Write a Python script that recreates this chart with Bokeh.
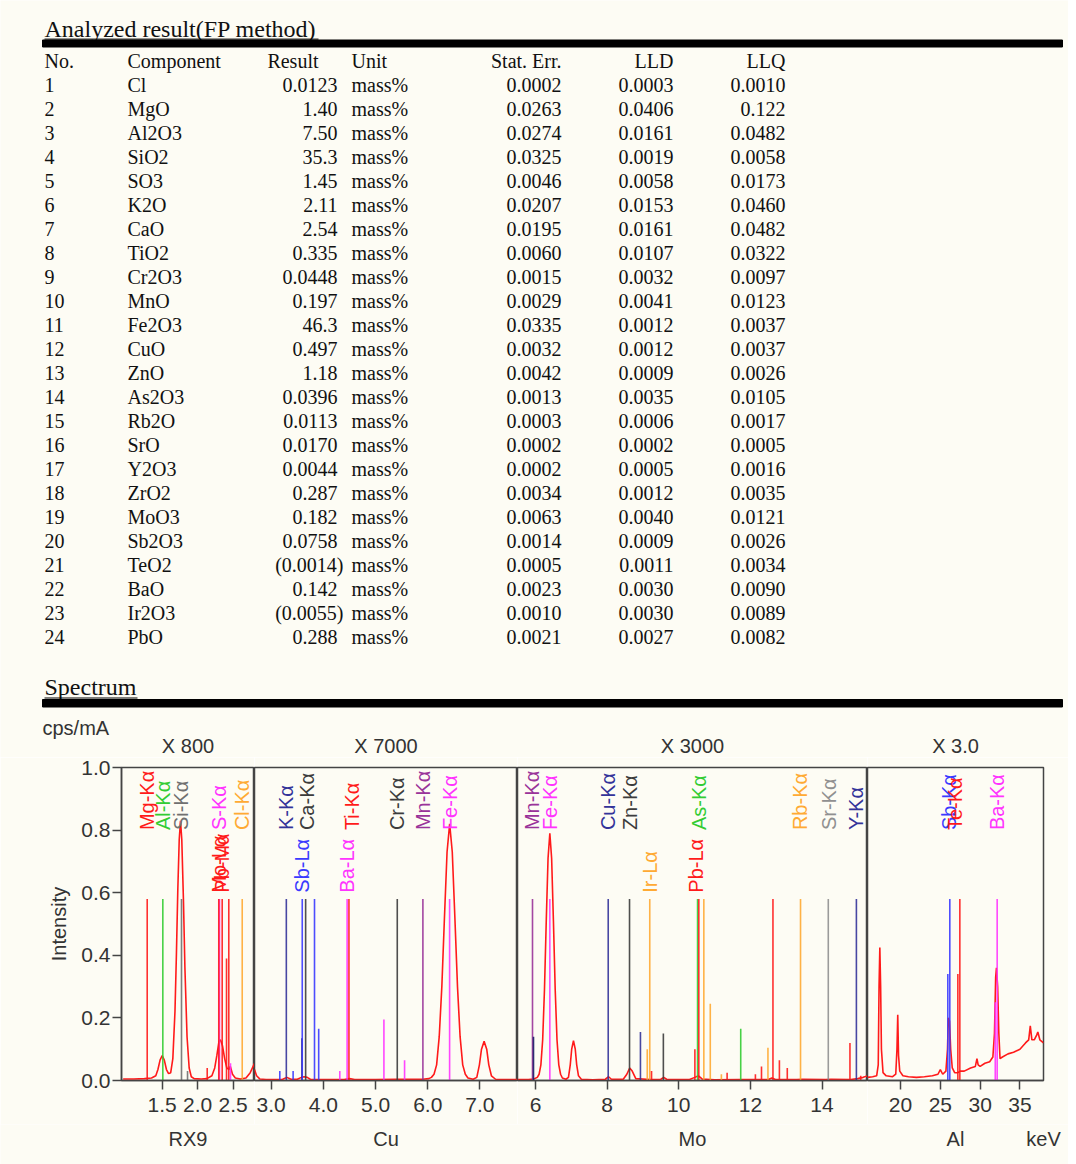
import numpy as np
from bokeh.plotting import figure
from bokeh.layouts import column, row
from bokeh.models import Range1d, FixedTicker, PrintfTickFormatter, ColumnDataSource
from bokeh.embed import file_html
from bokeh.resources import INLINE
from bokeh.core.properties import value

BG = "#fdfcf4"
SERIF = "Liberation Serif"
SANS = "Liberation Sans"
INK = "#333333"

# ---------------- table data ----------------
components = ["Cl", "MgO", "Al2O3", "SiO2", "SO3", "K2O", "CaO", "TiO2", "Cr2O3", "MnO", "Fe2O3", "CuO",
              "ZnO", "As2O3", "Rb2O", "SrO", "Y2O3", "ZrO2", "MoO3", "Sb2O3", "TeO2", "BaO", "Ir2O3", "PbO"]
results = ["0.0123", "1.40", "7.50", "35.3", "1.45", "2.11", "2.54", "0.335", "0.0448", "0.197", "46.3", "0.497",
           "1.18", "0.0396", "0.0113", "0.0170", "0.0044", "0.287", "0.182", "0.0758", "(0.0014)", "0.142", "(0.0055)", "0.288"]
units = ["mass%"] * 24
stat_err = ["0.0002", "0.0263", "0.0274", "0.0325", "0.0046", "0.0207", "0.0195", "0.0060", "0.0015", "0.0029", "0.0335", "0.0032",
            "0.0042", "0.0013", "0.0003", "0.0002", "0.0002", "0.0034", "0.0063", "0.0014", "0.0005", "0.0023", "0.0010", "0.0021"]
lld = ["0.0003", "0.0406", "0.0161", "0.0019", "0.0058", "0.0153", "0.0161", "0.0107", "0.0032", "0.0041", "0.0012", "0.0012",
       "0.0009", "0.0035", "0.0006", "0.0002", "0.0005", "0.0012", "0.0040", "0.0009", "0.0011", "0.0030", "0.0030", "0.0027"]
llq = ["0.0010", "0.122", "0.0482", "0.0058", "0.0173", "0.0460", "0.0482", "0.0322", "0.0097", "0.0123", "0.0037", "0.0037",
       "0.0026", "0.0105", "0.0017", "0.0005", "0.0016", "0.0035", "0.0121", "0.0026", "0.0034", "0.0090", "0.0089", "0.0082"]
headers = ["No.", "Component", "Result", "Unit", "Stat. Err.", "LLD", "LLQ"]

# ---------------- spectrum data ----------------
panel_names = ["RX9", "Cu", "Mo", "Al"]
panel_scales = ["X 800", "X 7000", "X 3000", "X 3.0"]
panel_xmin = [0.927, 2.68, 5.497, 15.85]
panel_xmax = [2.80, 7.72, 15.27, 37.96]
panel_ticks = [[1.5, 2.0, 2.5], [3.0, 4.0, 5.0, 6.0, 7.0], [6, 8, 10, 12, 14], [20, 25, 30, 35]]
panel_fmt = ["%.1f", "%.1f", "%d", "%d"]
y_ticks = [0.0, 0.2, 0.4, 0.6, 0.8, 1.0]

spec1_kev = [0.95, 1.10, 1.25, 1.35, 1.41, 1.44, 1.47, 1.50, 1.53, 1.56, 1.59, 1.62, 1.65, 1.68, 1.70, 1.72, 1.74,
             1.758, 1.776, 1.80, 1.82, 1.85, 1.88, 1.91, 1.95, 2.05, 2.13, 2.20, 2.24, 2.27, 2.30, 2.32, 2.35, 2.38,
             2.41, 2.44, 2.46, 2.49, 2.53, 2.60, 2.68, 2.74, 2.80]
spec1_int = [0.005, 0.005, 0.006, 0.008, 0.015, 0.035, 0.065, 0.08, 0.065, 0.035, 0.022, 0.025, 0.07, 0.22, 0.40, 0.61, 0.77,
             0.83, 0.77, 0.57, 0.36, 0.14, 0.04, 0.012, 0.006, 0.005, 0.006, 0.015, 0.04, 0.08, 0.125, 0.13, 0.11, 0.07,
             0.04, 0.035, 0.045, 0.02, 0.008, 0.005, 0.008, 0.025, 0.055]

spec2_kev = [2.68, 2.72, 2.78, 2.90, 3.10, 3.22, 3.30, 3.38, 3.50, 3.58, 3.63, 3.69, 3.75, 3.85, 4.00, 4.40, 4.50, 4.60,
             5.00, 5.40, 5.90, 6.02, 6.07, 6.12, 6.17, 6.22, 6.27, 6.32, 6.37, 6.42, 6.47, 6.52, 6.57, 6.62, 6.67, 6.72,
             6.77, 6.87, 6.94, 6.99, 7.03, 7.08, 7.13, 7.17, 7.22, 7.30, 7.45, 7.72]
spec2_int = [0.035, 0.015, 0.005, 0.003, 0.003, 0.004, 0.01, 0.004, 0.004, 0.01, 0.012, 0.01, 0.004, 0.003, 0.003, 0.003,
             0.006, 0.003, 0.003, 0.004, 0.004, 0.006, 0.01, 0.02, 0.05, 0.14, 0.30, 0.52, 0.73, 0.82, 0.73, 0.52, 0.30,
             0.14, 0.05, 0.02, 0.008, 0.004, 0.01, 0.05, 0.1, 0.125, 0.1, 0.05, 0.015, 0.004, 0.003, 0.003]

spec3_kev = [5.5, 5.8, 5.95, 6.05, 6.10, 6.15, 6.20, 6.25, 6.30, 6.35, 6.40, 6.45, 6.50, 6.55, 6.60, 6.65, 6.70, 6.75,
             6.85, 6.92, 6.97, 7.01, 7.06, 7.11, 7.15, 7.20, 7.28, 7.6, 7.95, 8.04, 8.12, 8.45, 8.55, 8.63, 8.70, 8.80,
             9.2, 9.5, 9.58, 9.66, 10.3, 10.45, 10.55, 10.65, 11.0, 11.7, 12.5, 12.6, 12.7, 13.3, 13.45, 14.1, 14.25,
             14.8, 15.0, 15.15, 15.27]
spec3_int = [0.003, 0.003, 0.005, 0.01, 0.02, 0.05, 0.13, 0.29, 0.51, 0.71, 0.79, 0.71, 0.51, 0.29, 0.13, 0.05, 0.02, 0.008,
             0.004, 0.01, 0.05, 0.1, 0.127, 0.1, 0.05, 0.015, 0.004, 0.002, 0.004, 0.012, 0.004, 0.004, 0.02, 0.04, 0.03,
             0.006, 0.003, 0.004, 0.01, 0.004, 0.003, 0.01, 0.015, 0.005, 0.002, 0.003, 0.003, 0.008, 0.003, 0.003, 0.004,
             0.003, 0.004, 0.003, 0.006, 0.01, 0.015]

spec4_kev = [15.85, 16.5, 17.0, 17.2, 17.3, 17.4, 17.5, 17.6, 17.8, 18.2, 19.0, 19.4, 19.55, 19.65, 19.75, 19.9, 20.3,
             21.0, 22.0, 23.0, 24.0, 24.7, 25.0, 25.3, 25.7, 25.9, 26.0, 26.15, 26.3, 26.5, 26.8, 27.2, 27.5, 28.0,
             28.8, 29.4, 29.6, 29.75, 30.0, 30.6, 31.2, 31.6, 31.8, 31.95, 32.05, 32.2, 32.35, 32.5, 32.8, 33.5, 34.2,
             35.0, 35.7, 36.1, 36.3, 36.5, 36.8, 37.1, 37.25, 37.5, 37.96]
spec4_int = [0.01, 0.012, 0.015, 0.05, 0.3, 0.425, 0.3, 0.1, 0.025, 0.015, 0.012, 0.02, 0.1, 0.21, 0.08, 0.03, 0.015,
             0.012, 0.01, 0.012, 0.015, 0.02, 0.035, 0.02, 0.03, 0.1, 0.2, 0.19, 0.1, 0.04, 0.025, 0.025, 0.03, 0.03,
             0.04, 0.045, 0.07, 0.05, 0.045, 0.055, 0.06, 0.075, 0.15, 0.33, 0.36, 0.3, 0.15, 0.07, 0.075, 0.085, 0.09,
             0.1, 0.12, 0.13, 0.175, 0.13, 0.13, 0.145, 0.155, 0.13, 0.12]

RED, GREEN, GRAY, GRAY2, DARK = "#ff1a1a", "#33cc33", "#707070", "#909090", "#3c3c3c"
MAGENTA, ORANGE, NAVY, BLUE, PURPLE, DNAVY = "#ff33ff", "#ffaa33", "#333399", "#3a3aff", "#993399", "#1a1a66"

lines1_kev = [1.289, 1.509, 1.772, 1.857, 2.134, 2.307, 2.297, 2.345, 2.406, 2.438, 2.462, 2.627]
lines1_h = [0.58, 0.58, 0.58, 0.03, 0.04, 0.58, 0.58, 0.58, 0.39, 0.58, 0.055, 0.58]
lines1_c = [RED, GREEN, GRAY, GRAY, RED, MAGENTA, RED, RED, RED, RED, MAGENTA, ORANGE]

lines2_kev = [3.165, 3.29, 3.42, 3.59, 3.595, 3.66, 3.83, 3.91, 4.315, 4.455, 4.49, 5.16, 5.416, 5.556, 5.907, 6.419]
lines2_h = [0.03, 0.58, 0.03, 0.135, 0.58, 0.58, 0.58, 0.165, 0.03, 0.58, 0.58, 0.195, 0.58, 0.065, 0.58, 0.58]
lines2_c = [BLUE, NAVY, BLUE, DNAVY, BLUE, DARK, BLUE, BLUE, MAGENTA, MAGENTA, RED, MAGENTA, DARK, MAGENTA, PURPLE, MAGENTA]

lines3_kev = [5.916, 5.944, 6.40, 8.03, 8.625, 8.93, 9.12, 9.19, 9.24, 9.57, 10.45, 10.525, 10.56, 10.70, 10.88, 11.19,
              11.35, 11.73, 12.14, 12.31, 12.49, 12.63, 12.81, 13.03, 13.40, 14.175, 14.78, 14.96, 15.08]
lines3_h = [0.58, 0.14, 0.58, 0.58, 0.58, 0.155, 0.10, 0.58, 0.03, 0.15, 0.10, 0.58, 0.58, 0.58, 0.245, 0.02,
            0.025, 0.165, 0.02, 0.045, 0.105, 0.58, 0.065, 0.04, 0.58, 0.58, 0.12, 0.58, 0.015]
lines3_c = [PURPLE, DNAVY, MAGENTA, NAVY, DARK, NAVY, ORANGE, ORANGE, RED, DARK, RED, GREEN, RED, ORANGE, ORANGE, ORANGE,
            RED, GREEN, RED, RED, ORANGE, RED, RED, RED, ORANGE, GRAY2, RED, NAVY, RED]

lines4_kev = [25.94, 26.19, 27.2, 27.45, 31.9, 32.14]
lines4_h = [0.34, 0.58, 0.34, 0.58, 0.25, 0.58]
lines4_c = [BLUE, BLUE, RED, RED, MAGENTA, MAGENTA]

labels1 = [(1.289, "Mg-Kα", RED, 0.80), (1.505, "Al-Kα", GREEN, 0.80), (1.758, "Si-Kα", GRAY, 0.80),
           (2.297, "S-Kα", MAGENTA, 0.80), (2.617, "Cl-Kα", ORANGE, 0.80),
           (2.30, "Mo-Lα", RED, 0.60), (2.34, "Pb-Mα", RED, 0.60)]
labels2 = [(3.29, "K-Kα", NAVY, 0.80), (3.69, "Ca-Kα", DARK, 0.80), (4.55, "Ti-Kα", RED, 0.80),
           (5.42, "Cr-Kα", DARK, 0.80), (5.90, "Mn-Kα", PURPLE, 0.80), (6.42, "Fe-Kα", MAGENTA, 0.80),
           (3.595, "Sb-Lα", BLUE, 0.60), (4.46, "Ba-Lα", MAGENTA, 0.60)]
labels3 = [(5.91, "Mn-Kα", PURPLE, 0.80), (6.40, "Fe-Kα", MAGENTA, 0.80), (8.03, "Cu-Kα", NAVY, 0.80),
           (8.65, "Zn-Kα", DARK, 0.80), (10.56, "As-Kα", GREEN, 0.80), (13.38, "Rb-Kα", ORANGE, 0.80),
           (14.19, "Sr-Kα", GRAY2, 0.80), (14.96, "Y-Kα", NAVY, 0.80),
           (9.21, "Ir-Lα", ORANGE, 0.60), (10.47, "Pb-Lα", RED, 0.60)]
labels4 = [(26.06, "Sb-Kα", BLUE, 0.80), (26.78, "Te-Kα", RED, 0.80), (32.14, "Ba-Kα", MAGENTA, 0.80)]

spectra = [(spec1_kev, spec1_int), (spec2_kev, spec2_int), (spec3_kev, spec3_int), (spec4_kev, spec4_int)]
marker_lines = [(lines1_kev, lines1_h, lines1_c), (lines2_kev, lines2_h, lines2_c),
                (lines3_kev, lines3_h, lines3_c), (lines4_kev, lines4_h, lines4_c)]
marker_labels = [labels1, labels2, labels3, labels4]

# ---------------- layout geometry (page pixels) ----------------
PAGE_W = 1068
TOP_H = 757              # top figure: table + spectrum header texts
FRAME_TOP, FRAME_BOT = 767, 1080
SPEC_BOT = 1124
PAGE_BOT = 1164
fig_w = [254, 263, 350, 201]
border_l = [121, 0, 0, 0]
border_r = [0, 0, 0, 25]
fig_x0 = np.cumsum([0] + fig_w[:-1])
frame_l = [fig_x0[i] + border_l[i] for i in range(4)]
frame_r = [fig_x0[i] + fig_w[i] - border_r[i] for i in range(4)]
frame_c = [(frame_l[i] + frame_r[i]) / 2 for i in range(4)]


def page_fig(y0, y1):
    f = figure(width=PAGE_W, height=y1 - y0, x_range=Range1d(0, PAGE_W), y_range=Range1d(y1, y0),
               toolbar_location=None, output_backend="svg", min_border=0, outline_line_color=None,
               x_axis_location=None, y_axis_location=None, title=None,
               background_fill_color=BG, border_fill_color=BG)
    f.grid.visible = False
    return f


tp = page_fig(0, TOP_H)


def ttext(f, xs, ys, texts, align, size="20px", font=SERIF, color="#111111"):
    f.text(x=xs, y=ys, text=texts, text_font=value(font), text_font_size=size, text_align=align,
           text_baseline="middle", text_color=color)


# section headers
ttext(tp, [44], [28.5], ["Analyzed result(FP method)"], "left", "24px")
tp.segment(x0=[44], y0=[38.6], x1=[318], y1=[38.6], line_color="black", line_width=1)
tp.quad(left=[42], right=[1062], top=[39.5], bottom=[46.5], color="black")
ttext(tp, [44], [686.5], ["Spectrum"], "left", "24px")
tp.segment(x0=[44], y0=[697.5], x1=[137], y1=[697.5], line_color="black", line_width=1)
tp.quad(left=[42], right=[1062], top=[699], bottom=[706.5], color="black")

hy = 60.5
ttext(tp, [44, 127, 351], [hy] * 3, [headers[0], headers[1], headers[3]], "left")
ttext(tp, [318, 561, 673, 785], [hy] * 4, [headers[2], headers[4], headers[5], headers[6]], "right")

rows_y = [84.5 + 24 * i for i in range(len(components))]
ttext(tp, [44] * 24, rows_y, [str(i + 1) for i in range(24)], "left")
ttext(tp, [127] * 24, rows_y, components, "left")
ttext(tp, [343 if r.startswith("(") else 337 for r in results], rows_y, results, "right")
ttext(tp, [351] * 24, rows_y, units, "left")
ttext(tp, [561] * 24, rows_y, stat_err, "right")
ttext(tp, [673] * 24, rows_y, lld, "right")
ttext(tp, [785] * 24, rows_y, llq, "right")

# spectrum header texts (unit + per-panel scale factors)
ttext(tp, [42], [727], ["cps/mA"], "left", "20px", SANS, INK)
ttext(tp, frame_c, [745.5] * 4, panel_scales, "center", "20px", SANS, INK)

# ---------------- spectrum figures ----------------
figs = []
for i in range(4):
    p = figure(width=fig_w[i], height=SPEC_BOT - TOP_H,
               x_range=Range1d(panel_xmin[i], panel_xmax[i]), y_range=Range1d(0, 1.0),
               toolbar_location=None, output_backend="svg", title=None,
               y_axis_location="left" if i == 0 else None,
               min_border_left=border_l[i], min_border_right=border_r[i],
               min_border_top=FRAME_TOP - TOP_H, min_border_bottom=SPEC_BOT - FRAME_BOT,
               background_fill_color=BG, border_fill_color=BG,
               outline_line_color="#444444", outline_line_width=1.5)
    p.grid.visible = False
    ax = p.xaxis[0]
    ax.ticker = FixedTicker(ticks=panel_ticks[i])
    ax.formatter = PrintfTickFormatter(format=panel_fmt[i])
    ax.major_label_standoff = 8
    for a in p.axis:
        a.axis_line_color = "#444444"
        a.axis_line_width = 1.5
        a.major_tick_line_color = "#444444"
        a.major_tick_line_width = 1.5
        a.major_tick_in = 0
        a.major_tick_out = 9
        a.minor_tick_line_color = None
        a.major_label_text_font = SANS
        a.major_label_text_font_size = "21px"
        a.major_label_text_color = INK
        a.axis_label_text_font = SANS
        a.axis_label_text_font_size = "20px"
        a.axis_label_text_font_style = "normal"
        a.axis_label_text_color = INK
    if i == 0:
        ay = p.yaxis[0]
        ay.ticker = FixedTicker(ticks=y_ticks)
        ay.formatter = PrintfTickFormatter(format="%.1f")
        ay.axis_label = "Intensity"
        ay.major_label_standoff = 2
        ay.axis_label_standoff = 8

    kev, inten = spectra[i]
    p.line(x=kev, y=inten, line_color=RED, line_width=1.6)

    lk, lh, lc = marker_lines[i]
    src = ColumnDataSource(dict(x=lk, h=lh, c=lc, z=[0.0] * len(lk)))
    p.segment(x0="x", y0="z", x1="x", y1="h", line_color="c", line_width=1.6, line_alpha=0.9, source=src)

    lab = marker_labels[i]
    lsrc = ColumnDataSource(dict(x=[l[0] for l in lab], t=[l[1] for l in lab],
                                 c=[l[2] for l in lab], y=[l[3] for l in lab]))
    p.text(x="x", y="y", text="t", text_color="c", angle=np.pi / 2, text_font=value(SANS),
           text_font_size="20px", text_align="left", text_baseline="middle", source=lsrc)
    figs.append(p)

# ---------------- bottom strip: panel names and energy unit ----------------
bp = page_fig(SPEC_BOT, PAGE_BOT)
ttext(bp, frame_c, [1138] * 4, panel_names, "center", "20px", SANS, INK)
ttext(bp, [frame_r[3]], [1138], ["keV"], "center", "20px", SANS, INK)

layout = column(tp, row(*figs), bp)
open("out.html", "w").write(file_html(layout, INLINE))
